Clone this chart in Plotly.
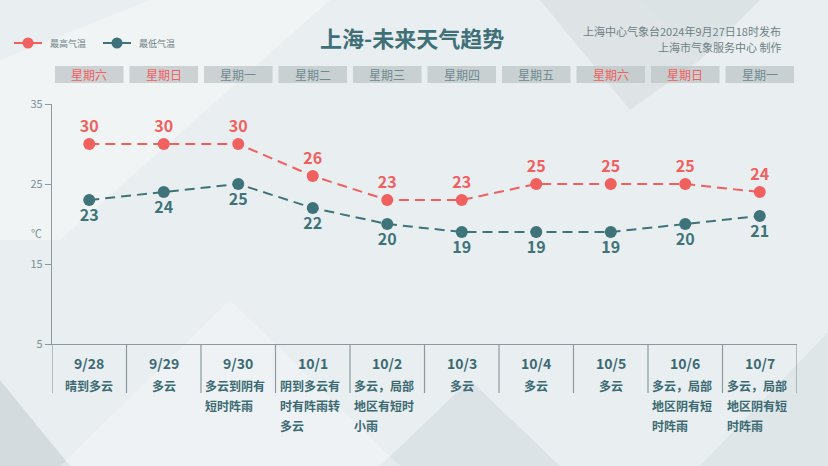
import plotly.graph_objects as go

dates = ["9/28", "9/29", "9/30", "10/1", "10/2", "10/3", "10/4", "10/5", "10/6", "10/7"]
weekdays = ["星期六", "星期日", "星期一", "星期二", "星期三", "星期四", "星期五", "星期六", "星期日", "星期一"]
high = [30, 30, 30, 26, 23, 23, 25, 25, 25, 24]
low = [23, 24, 25, 22, 20, 19, 19, 19, 20, 21]
weather = [
    ["晴到多云"],
    ["多云"],
    ["多云到阴有", "短时阵雨"],
    ["阴到多云有", "时有阵雨转", "多云"],
    ["多云，局部", "地区有短时", "小雨"],
    ["多云"],
    ["多云"],
    ["多云"],
    ["多云，局部", "地区阴有短", "时阵雨"],
    ["多云，局部", "地区阴有短", "时阵雨"],
]
yticks = [5, 15, 25, 35]

RED = "#f0605e"
TEAL = "#3e7479"
GRAY = "#8c9a9e"
FONT = "Noto Sans CJK SC"

W, H = 828, 466
L, R, T, B = 52, 31, 104, 122
PW = W - L - R
PH = H - T - B


def px(x):
    return (x - L) / PW


def py(y):
    return (H - B - y) / PH


idx = list(range(len(dates)))
fig = go.Figure()

fig.add_trace(go.Scatter(
    x=idx, y=high, mode="lines+markers+text", name="最高气温",
    line=dict(color=RED, width=2, dash="10px,6px"),
    marker=dict(color=RED, size=12),
    text=[str(v) for v in high], textposition="top center",
    textfont=dict(family=FONT, size=16, color=RED, weight="bold"),
    cliponaxis=False,
))
fig.add_trace(go.Scatter(
    x=idx, y=low, mode="lines+markers+text", name="最低气温",
    line=dict(color=TEAL, width=2, dash="10px,6px"),
    marker=dict(color=TEAL, size=12),
    text=[str(v) for v in low], textposition="bottom center",
    textfont=dict(family=FONT, size=16, color=TEAL, weight="bold"),
    cliponaxis=False,
))

shapes = []
annotations = []


def ann(**kw):
    kw.setdefault("showarrow", False)
    kw.setdefault("yanchor", "middle")
    annotations.append(kw)


# background decoration
bg_polys = [
    ([(0, 60), (150, 0), (330, 0), (60, 240), (0, 240)], "rgba(255,255,255,0.35)"),
    ([(540, 0), (640, 0), (700, 60), (630, 110)], "rgba(170,185,190,0.18)"),
    ([(640, 0), (760, 0), (700, 60)], "rgba(150,165,170,0.15)"),
    ([(0, 380), (70, 466), (0, 466)], "rgba(150,165,170,0.25)"),
    ([(380, 466), (470, 380), (560, 466)], "rgba(170,185,190,0.2)"),
    ([(700, 466), (830, 330), (828, 466)], "rgba(170,185,190,0.15)"),
    ([(60, 466), (230, 300), (400, 466)], "rgba(255,255,255,0.25)"),
]
for pts, col in bg_polys:
    path = "M " + " L ".join(f"{px(x)},{py(y)}" for x, y in pts) + " Z"
    shapes.append(dict(type="path", xref="paper", yref="paper", path=path,
                       fillcolor=col, line=dict(width=0), layer="below"))

# table vertical lines
for i in range(len(dates) + 1):
    shapes.append(dict(type="line", xref="x", yref="paper", x0=i - 0.5, x1=i - 0.5,
                       y0=py(344), y1=py(393), line=dict(color=GRAY, width=1.2)))

# weekday boxes
for i, wd in enumerate(weekdays):
    shapes.append(dict(type="rect", xref="x", yref="paper", x0=i - 0.46, x1=i + 0.46,
                       y0=py(83), y1=py(66), fillcolor="rgba(185,192,194,0.65)",
                       line=dict(width=0)))
    col = RED if wd in ("星期六", "星期日") else "#6f8a90"
    ann(xref="x", yref="paper", x=i, y=py(74.5), text=wd,
        font=dict(family=FONT, size=12, color=col))

# dates and weather
TXT = "#3b6a72"
for i, d in enumerate(dates):
    ann(xref="x", yref="paper", x=i, y=py(363), text=d,
        font=dict(family=FONT, size=14, color=TXT, weight="bold"))
    lines = weather[i]
    for j, ln in enumerate(lines):
        if len(lines) == 1:
            ann(xref="x", yref="paper", x=i, y=py(385), text=ln,
                font=dict(family=FONT, size=12, color=TXT, weight="bold"))
        else:
            ann(xref="x", yref="paper", x=i - 0.47, xanchor="left",
                y=py(385 + 20 * j), text=ln,
                font=dict(family=FONT, size=12, color=TXT, weight="bold"))

# title and source text
ann(xref="paper", yref="paper", x=px(412), y=py(37), text="上海-未来天气趋势",
    font=dict(family=FONT, size=22, color="#3f7078", weight="bold"))
ann(xref="paper", yref="paper", x=px(783), xanchor="right", y=py(31),
    text="上海中心气象台2024年9月27日18时发布",
    font=dict(family=FONT, size=11, color="#6f7f84"))
ann(xref="paper", yref="paper", x=px(783), xanchor="right", y=py(47),
    text="上海市气象服务中心 制作",
    font=dict(family=FONT, size=11, color="#6f7f84"))
ann(xref="paper", yref="paper", x=px(29), y=py(233), text="℃",
    font=dict(family=FONT, size=11, color="#7f8f94"))

# manual legend
for (x0, col, label) in [(14, RED, "最高气温"), (103, TEAL, "最低气温")]:
    shapes.append(dict(type="line", xref="paper", yref="paper", x0=px(x0), x1=px(x0 + 28),
                       y0=py(43), y1=py(43), line=dict(color=col, width=2)))
    shapes.append(dict(type="circle", xref="paper", yref="paper",
                       x0=px(x0 + 14 - 5.5), x1=px(x0 + 14 + 5.5),
                       y0=py(43 + 5.5), y1=py(43 - 5.5), fillcolor=col, line=dict(width=0)))
    ann(xref="paper", yref="paper", x=px(x0 + 34), xanchor="left", y=py(43),
        text=label, font=dict(family=FONT, size=9, color="#6f7f84"))

fig.update_layout(
    width=W, height=H,
    margin=dict(l=L, r=R, t=T, b=B),
    paper_bgcolor="#e9eef0", plot_bgcolor="rgba(0,0,0,0)",
    showlegend=False,
    shapes=shapes, annotations=annotations,
    font=dict(family=FONT),
    xaxis=dict(range=[-0.5, len(dates) - 0.5], showgrid=False, zeroline=False,
               showticklabels=False, showline=True, linecolor=GRAY, linewidth=1.2, ticks=""),
    yaxis=dict(range=[5, 35], tickvals=yticks, showgrid=False, zeroline=False,
               showline=True, linecolor=GRAY, linewidth=1.2, ticks="outside", ticklen=6,
               tickcolor=GRAY, tickfont=dict(family=FONT, size=11, color="#7f8f94")),
)

fig.write_html("out.html")
